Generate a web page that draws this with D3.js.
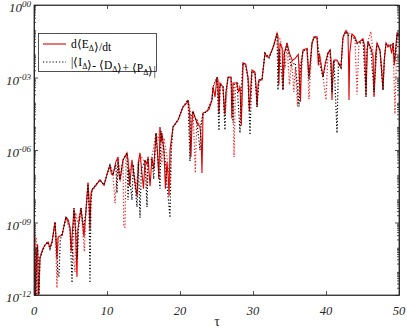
<!DOCTYPE html>
<html><head><meta charset="utf-8">
<script src="https://cdn.jsdelivr.net/npm/d3@7"></script>
<style>body{margin:0;background:#fff}svg{display:block}</style>
</head><body><svg id="c" width="407" height="330"></svg>
<script>
// [tau, log10(value)]
const dEdt = [[0,-8.36],[0.1,-9.4],[0.2,-12.5],[0.35,-10.2],[0.5,-9.9],[0.6,-12.5],[0.82,-10.47],[1.2,-10.1],[1.51,-9.93],[1.92,-9.81],[2.19,-10.05],[2.47,-9.81],[2.88,-8.98],[3.0,-9.5],[3.15,-10.5],[3.3,-9.6],[3.84,-9.52],[4.38,-8.77],[4.7,-8.9],[4.93,-9.2],[5.1,-10.2],[5.21,-9.6],[5.48,-8.4],[5.7,-9.4],[5.89,-11.25],[6.0,-9.3],[6.44,-8.4],[6.85,-9.6],[7.1,-8.6],[7.4,-7.36],[7.55,-8.2],[7.67,-9.3],[7.8,-7.8],[7.95,-7.65],[9.04,-7.24],[9.59,-7.45],[10.0,-7.0],[10.41,-6.62],[10.6,-7.0],[10.82,-7.03],[11.2,-6.5],[11.51,-6.29],[11.65,-7.0],[11.78,-7.24],[12.19,-6.41],[12.74,-6.12],[12.88,-6.4],[13.1,-7.5],[13.42,-6.41],[13.8,-7.3],[14.11,-7.9],[14.3,-6.5],[14.52,-6.12],[14.8,-7.0],[15.0,-7.6],[15.21,-6.41],[15.48,-6.6],[15.62,-6.29],[15.9,-7.5],[16.16,-6.29],[16.4,-6.8],[16.71,-5.3],[16.9,-6.0],[17.1,-7.2],[17.26,-5.05],[17.4,-5.7],[17.53,-5.3],[17.8,-6.0],[18.0,-7.6],[18.22,-6.5],[18.4,-7.2],[18.5,-7.9],[18.63,-6.0],[19.04,-5.05],[19.73,-4.76],[20.41,-4.22],[20.96,-4.05],[21.10,-3.93],[21.3,-4.4],[21.4,-5.5],[21.5,-6.3],[21.64,-4.9],[21.78,-4.4],[22.33,-4.88],[22.74,-5.05],[22.9,-5.6],[23.01,-6.95],[23.1,-5.5],[23.15,-4.47],[23.70,-4.40],[24.0,-4.3],[24.38,-3.93],[24.52,-3.39],[24.8,-3.8],[25.07,-2.98],[25.2,-3.1],[25.34,-4.5],[25.48,-3.23],[25.89,-3.39],[26.1,-4.5],[26.3,-3.6],[26.58,-2.98],[26.99,-2.98],[27.1,-4.7],[27.26,-3.23],[27.81,-3.23],[28.0,-3.6],[28.22,-3.39],[28.4,-5.0],[28.63,-2.40],[29.0,-2.45],[29.32,-2.98],[29.5,-4.4],[29.86,-2.69],[30.27,-2.77],[30.45,-3.5],[30.55,-4.22],[30.7,-3.3],[30.82,-3.10],[31.23,-3.10],[31.64,-1.99],[31.92,-2.15],[32.19,-2.15],[32.60,-1.86],[32.88,-1.66],[33.29,-1.16],[33.42,-1.3],[33.55,-3.3],[33.70,-1.57],[34.0,-1.8],[34.11,-3.52],[34.3,-2.0],[34.66,-1.57],[35.0,-2.0],[35.4,-2.3],[35.8,-2.2],[36.2,-2.05],[36.35,-2.9],[36.5,-4.0],[36.65,-2.4],[36.85,-1.86],[37.40,-1.80],[37.67,-2.98],[38.08,-1.57],[38.36,-1.32],[38.77,-1.32],[38.95,-2.5],[39.1,-2.0],[39.59,-2.98],[39.9,-2.4],[40.27,-1.99],[40.55,-1.86],[40.7,-2.3],[40.82,-3.93],[41.0,-2.4],[41.10,-2.28],[41.51,-2.28],[41.64,-2.35],[42.05,-2.57],[42.33,-1.32],[42.74,-1.05],[43.01,-1.2],[43.1,-2.5],[43.15,-3.93],[43.25,-2.0],[43.56,-1.2],[43.97,-1.32],[44.25,-1.57],[44.66,-1.5],[45.07,-1.4],[45.3,-1.7],[45.48,-3.8],[45.65,-1.9],[45.75,-1.5],[46.16,-1.8],[46.44,-2.1],[46.58,-3.8],[46.8,-2.0],[46.99,-1.57],[47.40,-1.86],[47.81,-3.52],[48.0,-2.2],[48.22,-1.57],[48.49,-1.74],[48.77,-1.66],[49.0,-2.0],[49.18,-1.57],[49.35,-2.5],[49.73,-1.16],[50,-1.25]];

const residBlack = [[0,-8.4],[0.1,-9.6],[0.25,-12.5],[0.4,-10.0],[0.55,-10.2],[0.65,-12.5],[0.82,-10.47],[1.51,-9.93],[1.92,-9.81],[2.19,-10.1],[2.47,-9.81],[2.88,-8.98],[3.05,-10.0],[3.3,-11.2],[3.42,-11.25],[3.6,-9.7],[3.84,-9.52],[4.38,-8.77],[4.93,-9.3],[5.21,-11.5],[5.35,-9.5],[5.48,-8.4],[5.8,-9.6],[5.95,-10.5],[6.1,-9.2],[6.44,-8.4],[6.8,-9.2],[7.1,-8.6],[7.4,-7.4],[7.55,-8.5],[7.67,-11.5],[7.8,-8.2],[7.95,-7.65],[9.04,-7.24],[9.59,-7.45],[10.41,-6.62],[10.82,-7.03],[11.2,-6.6],[11.37,-7.78],[11.51,-6.4],[11.78,-7.24],[12.19,-6.41],[12.74,-6.12],[12.88,-8.07],[13.0,-6.8],[13.42,-8.07],[13.6,-6.6],[14.11,-8.36],[14.3,-6.5],[14.52,-8.8],[14.7,-6.8],[15.21,-6.41],[15.48,-8.36],[15.62,-6.4],[16.16,-6.4],[16.4,-7.2],[16.71,-5.3],[17.0,-6.5],[17.26,-7.6],[17.4,-5.2],[17.53,-5.5],[18.0,-6.5],[18.22,-7.5],[18.4,-8.0],[18.63,-8.8],[18.8,-6.0],[19.04,-5.05],[19.73,-4.76],[20.41,-4.22],[21.10,-3.93],[21.37,-6.46],[21.5,-4.6],[21.78,-4.4],[22.33,-4.88],[22.74,-6.0],[22.9,-5.0],[23.15,-4.5],[23.70,-4.40],[24.38,-3.93],[24.52,-3.39],[25.07,-3.0],[25.34,-5.2],[25.48,-3.3],[25.89,-3.39],[26.16,-5.17],[26.3,-3.6],[26.58,-3.0],[26.99,-3.0],[27.26,-4.88],[27.4,-3.3],[27.81,-3.23],[28.22,-5.3],[28.4,-3.4],[28.63,-2.4],[29.0,-2.5],[29.32,-3.1],[29.59,-5.38],[29.86,-2.75],[30.27,-2.8],[30.55,-4.22],[30.82,-3.1],[31.23,-3.1],[31.64,-2.0],[32.19,-2.2],[32.60,-1.9],[33.29,-1.2],[33.42,-3.52],[33.6,-1.8],[34.11,-3.52],[34.3,-2.0],[34.66,-1.6],[35.2,-2.5],[35.8,-2.4],[36.3,-4.2],[36.5,-2.5],[36.85,-1.9],[37.40,-1.85],[37.67,-3.1],[38.08,-1.6],[38.36,-1.35],[38.77,-1.35],[39.0,-2.2],[39.59,-3.0],[40.27,-2.0],[40.55,-1.9],[40.82,-3.6],[41.1,-2.3],[41.51,-5.3],[41.7,-2.4],[42.05,-2.6],[42.33,-1.35],[42.74,-1.1],[43.01,-1.25],[43.56,-1.3],[43.97,-1.4],[44.25,-1.6],[44.66,-1.55],[45.07,-1.45],[45.48,-3.81],[45.6,-1.9],[45.75,-1.55],[46.16,-1.9],[46.58,-3.6],[46.99,-1.6],[47.40,-1.9],[47.81,-3.52],[48.0,-2.2],[48.22,-1.6],[48.77,-1.7],[49.18,-1.6],[49.45,-2.3],[49.73,-1.2],[50,-1.3]];

const residRed = [[0,-8.3],[0.15,-12.5],[0.3,-9.6],[0.5,-12.5],[0.82,-10.4],[1.51,-9.9],[1.92,-9.8],[2.19,-10.0],[2.47,-9.8],[2.88,-8.98],[3.15,-11.71],[3.3,-9.6],[3.84,-9.5],[4.38,-8.8],[4.93,-9.2],[5.62,-11.05],[5.7,-8.6],[6.0,-9.0],[6.44,-8.4],[6.9,-10.2],[7.1,-8.6],[7.4,-7.36],[7.6,-8.3],[7.95,-7.7],[9.04,-7.24],[9.59,-7.45],[10.41,-6.62],[10.82,-7.03],[11.1,-8.2],[11.51,-6.3],[11.8,-7.3],[12.19,-6.4],[12.3,-9.19],[12.47,-9.19],[12.6,-6.4],[12.74,-6.15],[13.1,-7.0],[13.42,-6.5],[14.0,-7.5],[14.52,-6.2],[15.21,-6.5],[15.5,-7.6],[15.62,-6.3],[16.16,-6.3],[16.71,-5.3],[17.0,-5.6],[17.26,-5.05],[17.5,-6.6],[17.8,-5.5],[18.22,-6.3],[18.63,-7.4],[18.8,-5.8],[19.04,-5.05],[19.73,-4.76],[20.41,-4.22],[21.1,-3.93],[21.4,-4.3],[21.6,-5.2],[21.8,-4.4],[22.1,-6.95],[22.3,-4.7],[22.74,-5.05],[23.15,-4.47],[23.70,-4.40],[24.38,-3.93],[24.52,-3.39],[25.07,-3.0],[25.34,-4.3],[25.48,-3.2],[25.89,-3.39],[26.16,-4.6],[26.58,-3.0],[26.99,-3.0],[27.26,-3.8],[27.40,-6.29],[27.6,-3.5],[27.81,-3.2],[28.22,-3.4],[28.5,-4.2],[28.63,-2.4],[29.0,-2.45],[29.32,-3.0],[29.59,-3.6],[29.86,-2.7],[30.27,-2.8],[30.55,-4.0],[30.82,-3.1],[31.23,-3.1],[31.64,-2.0],[32.19,-2.15],[32.60,-1.86],[33.29,-1.16],[33.42,-1.4],[33.70,-1.4],[34.11,-1.9],[34.4,-2.6],[34.66,-1.6],[35.0,-3.3],[35.3,-2.3],[35.6,-3.6],[35.8,-2.6],[36.1,-4.2],[36.3,-2.4],[36.6,-3.0],[36.85,-1.86],[37.40,-1.8],[37.67,-3.9],[38.08,-1.6],[38.36,-1.32],[38.77,-1.3],[39.0,-1.9],[39.59,-2.98],[40.0,-3.93],[40.27,-2.0],[40.55,-1.86],[40.82,-3.0],[41.10,-2.3],[41.51,-2.3],[42.05,-2.6],[42.33,-1.3],[42.74,-1.05],[43.01,-1.15],[43.56,-1.25],[43.97,-1.4],[44.25,-3.7],[44.5,-1.7],[45.07,-1.4],[45.48,-3.0],[45.75,-1.5],[46.16,-1.1],[46.44,-2.0],[46.58,-3.8],[46.99,-1.6],[47.40,-1.9],[47.81,-3.0],[48.22,-1.6],[48.77,-1.7],[49.18,-1.6],[49.45,-4.5],[49.73,-1.2],[50,-1.3]];

const xTicks = [0, 10, 20, 30, 40, 50];
const yTickExps = [0, -3, -6, -9, -12];
const yTickLabels = ["00", "-03", "-06", "-09", "-12"];

const svg = d3.select("#c");
const L = 34, R = 399, T = 5, B = 295;
const x = d3.scaleLinear().domain([0, 50]).range([L, R]);
const y = d3.scaleLog().domain([1e-12, 1]).range([B, T]);
const axCol = "#262626";

svg.append("defs").append("clipPath").attr("id", "clip")
  .append("rect").attr("x", L).attr("y", T).attr("width", R - L).attr("height", B - T);

const line = d3.line().x(d => x(d[0])).y(d => y(Math.pow(10, d[1])));
const plot = svg.append("g").attr("clip-path", "url(#clip)");
plot.append("path").datum(dEdt).attr("d", line)
  .attr("fill", "none").attr("stroke", "#e00000").attr("stroke-width", 1.1);
plot.append("path").datum(residRed).attr("d", line)
  .attr("fill", "none").attr("stroke", "#ff1a1a").attr("stroke-width", 1.2).attr("stroke-dasharray", "1.2,2");
plot.append("path").datum(residBlack).attr("d", line)
  .attr("fill", "none").attr("stroke", "#000").attr("stroke-width", 1.2).attr("stroke-dasharray", "1.2,2");

// axes
const minor = [];
for (let e = -12; e < 0; e++) for (let m = 2; m <= 9; m++) minor.push(m * Math.pow(10, e));
const gAx = svg.append("g");
gAx.append("g").attr("transform", `translate(0,${B})`)
  .call(d3.axisBottom(x).tickValues(xTicks).tickSizeInner(-4).tickSizeOuter(0).tickFormat(""));
gAx.append("g").attr("transform", `translate(0,${T})`)
  .call(d3.axisTop(x).tickValues(xTicks).tickSizeInner(-4).tickSizeOuter(0).tickFormat(""));
gAx.append("g").attr("transform", `translate(${L},0)`)
  .call(d3.axisLeft(y).tickValues(yTickExps.map(e => Math.pow(10, e))).tickSizeInner(-4).tickSizeOuter(0).tickFormat(""));
gAx.append("g").attr("transform", `translate(${R},0)`)
  .call(d3.axisRight(y).tickValues(yTickExps.map(e => Math.pow(10, e))).tickSizeInner(-4).tickSizeOuter(0).tickFormat(""));
gAx.append("g").attr("transform", `translate(${L},0)`)
  .call(d3.axisLeft(y).tickValues(minor).tickSizeInner(-2).tickSizeOuter(0).tickFormat(""));
gAx.append("g").attr("transform", `translate(${R},0)`)
  .call(d3.axisRight(y).tickValues(minor).tickSizeInner(-2).tickSizeOuter(0).tickFormat(""));
svg.selectAll(".domain").attr("stroke", axCol).attr("stroke-width", 0.8);
svg.selectAll(".tick line").attr("stroke", axCol).attr("stroke-width", 0.8);
svg.append("rect").attr("x", L).attr("y", T).attr("width", R - L).attr("height", B - T)
  .attr("fill", "none").attr("stroke", axCol).attr("stroke-width", 0.8);

const font = "'Liberation Serif', 'Times New Roman', serif";
// x tick labels
svg.append("g").selectAll("text").data(xTicks).join("text")
  .attr("x", d => x(d)).attr("y", 315).attr("text-anchor", "middle")
  .attr("font-family", font).attr("font-style", "italic").attr("font-size", 12.5).attr("fill", axCol)
  .text(d => d);
// y tick labels
yTickExps.forEach((e, i) => {
  const t = svg.append("text").attr("x", 31).attr("y", y(Math.pow(10, e)) + 7)
    .attr("text-anchor", "end").attr("font-family", font).attr("font-style", "italic")
    .attr("font-size", 13).attr("fill", axCol);
  t.append("tspan").text("10");
  t.append("tspan").attr("dy", -5).attr("font-size", 9).text(yTickLabels[i]);
});
// x label
svg.append("text").attr("x", 217).attr("y", 326).attr("text-anchor", "middle")
  .attr("font-family", font).attr("font-size", 14).attr("fill", axCol).text("τ");

// legend
const lg = svg.append("g");
lg.append("rect").attr("x", 38.5).attr("y", 33.5).attr("width", 118).attr("height", 38)
  .attr("fill", "#fff").attr("stroke", "#262626").attr("stroke-width", 0.8);
lg.append("line").attr("x1", 43).attr("x2", 66).attr("y1", 44).attr("y2", 44)
  .attr("stroke", "#e00000").attr("stroke-width", 1.1);
lg.append("line").attr("x1", 43).attr("x2", 66).attr("y1", 62).attr("y2", 62)
  .attr("stroke", "#000").attr("stroke-width", 1.2).attr("stroke-dasharray", "1.2,2");
function legText(yy, parts) {
  const t = lg.append("text").attr("x", 71).attr("y", yy).attr("font-family", font)
    .attr("font-size", 11.5).attr("fill", "#000");
  parts.forEach(p => {
    if (p.sub) {
      t.append("tspan").attr("dy", 3).attr("font-size", 8).text(p.sub);
      t.append("tspan").attr("dy", -3).text("");
    } else t.append("tspan").text(p.t);
  });
}
legText(48, [{t: "d⟨E"}, {sub: "Δ"}, {t: "⟩/dt"}]);
legText(66, [{t: "|⟨I"}, {sub: "Δ"}, {t: "⟩- ⟨D"}, {sub: "Δ"}, {t: "⟩+ ⟨P"}, {sub: "Δ"}, {t: "⟩|"}]);
</script></body></html>
